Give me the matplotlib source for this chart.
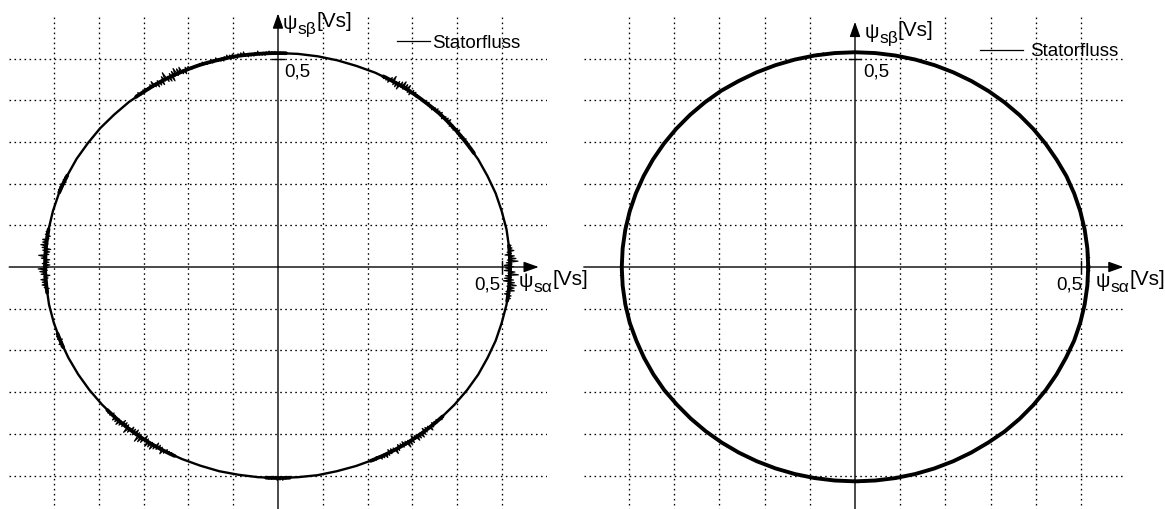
import numpy as np
import matplotlib
matplotlib.use("Agg")
import matplotlib.pyplot as plt
from matplotlib.lines import Line2D

plt.rcParams['font.family'] = ['Liberation Sans', 'DejaVu Sans']

# ---------------------------------------------------------------------------
# Stator flux locus, sampled every 5 degrees (radius in Vs)
# ---------------------------------------------------------------------------
angle_deg = list(range(0, 360, 5))

flux_radius_left = [
    0.518, 0.518, 0.518, 0.517, 0.517, 0.516, 0.516, 0.515, 0.515, 0.515,
    0.514, 0.514, 0.514, 0.514, 0.513, 0.513, 0.513, 0.513, 0.513, 0.513,
    0.514, 0.514, 0.515, 0.515, 0.516, 0.516, 0.517, 0.517, 0.518, 0.518,
    0.519, 0.519, 0.520, 0.520, 0.520, 0.520, 0.520, 0.519, 0.519, 0.518,
    0.517, 0.516, 0.515, 0.514, 0.513, 0.512, 0.511, 0.510, 0.509, 0.508,
    0.507, 0.507, 0.506, 0.506, 0.506, 0.506, 0.507, 0.507, 0.508, 0.509,
    0.510, 0.511, 0.512, 0.513, 0.514, 0.515, 0.516, 0.516, 0.517, 0.517,
    0.518, 0.518,
]

flux_radius_right = [
    0.516, 0.516, 0.516, 0.516, 0.516, 0.516, 0.515, 0.515, 0.515, 0.515,
    0.515, 0.515, 0.515, 0.515, 0.515, 0.515, 0.515, 0.515, 0.515, 0.515,
    0.515, 0.515, 0.515, 0.515, 0.515, 0.516, 0.516, 0.516, 0.516, 0.516,
    0.516, 0.516, 0.516, 0.516, 0.516, 0.516, 0.516, 0.516, 0.516, 0.516,
    0.515, 0.515, 0.515, 0.515, 0.514, 0.514, 0.514, 0.514, 0.514, 0.514,
    0.514, 0.514, 0.514, 0.514, 0.514, 0.514, 0.514, 0.514, 0.514, 0.514,
    0.514, 0.514, 0.515, 0.515, 0.515, 0.515, 0.515, 0.515, 0.516, 0.516,
    0.516, 0.516,
]

# Ripple bursts on the locus: (start angle, end angle, amplitude in Vs)
ripple_left = [
    (-9, 6, 0.02), (32, 53, 0.008), (53, 63, 0.016), (88, 112, 0.008),
    (112, 124, 0.018), (124, 128, 0.008), (155, 160, 0.007),
    (170, 187, 0.016), (198, 202, 0.008), (222, 243, 0.016),
    (267, 273, 0.007), (294, 316, 0.013),
]
ripple_right = [
    (95, 101, 0.004), (178, 186, 0.004), (268, 274, 0.004), (352, 8, 0.004),
]

# Spike shape sequence used to draw the ripple
ripple_pattern = [1.0, 0.45, 0.8, 0.2, 0.65, 0.95, 0.3, 0.55, 0.85, 0.15,
                  0.7, 0.4, 0.9, 0.25, 0.6]

grid_values = [-0.5, -0.4, -0.3, -0.2, -0.1, 0.1, 0.2, 0.3, 0.4, 0.5]
tick_value = 0.5
tick_text = "0,5"
legend_text = "Statorfluss"
x_title = ("ψ", "sα", "[Vs]")
y_title = ("ψ", "sβ", "[Vs]")

# ---------------------------------------------------------------------------
W, H = 1165, 509
fig = plt.figure(figsize=(W / 100, H / 100), dpi=100)


def make_axes(cx, cy, sx, sy):
    ax = fig.add_axes([(cx - 0.6 * sx) / W, 1 - (cy + 0.6 * sy) / H,
                       1.2 * sx / W, 1.2 * sy / H])
    ax.set_xlim(-0.6, 0.6)
    ax.set_ylim(-0.6, 0.6)
    ax.axis('off')
    return ax


def axis_title(ax, x, y, parts):
    """Symbol, subscript and unit written as three chained texts."""
    sym, sub, unit = parts
    t1 = ax.text(x, y, sym, fontsize=14.5, ha='left', va='top')
    t2 = ax.annotate(sub, xy=(1.0, 0.58), xycoords=t1, fontsize=12.5,
                     ha='left', va='top')
    ax.annotate(unit, xy=(1.0, 1.12), xycoords=(t2, t1), fontsize=15,
                ha='left', va='top')


def draw_panel(ax, radius, ripples, lw, band_extra, x_tip, y_tip, ylab_pos,
               xlab_x, leg_pos, leg_len, leg_pad, ytick_txt_pos, xtick_txt_x):
    # dotted grid
    dot = (0, (1.2, 2.6))
    for v in grid_values:
        ax.plot([v, v], [-0.6, 0.6], color='k', lw=0.95, ls=dot, zorder=1)
        ax.plot([-0.6, 0.6], [v, v], color='k', lw=0.95, ls=dot, zorder=1)

    # coordinate axes with arrows
    arrow = dict(arrowstyle='-|>,head_length=0.9,head_width=0.32', lw=1.0,
                 color='k', shrinkA=0, shrinkB=0, mutation_scale=10)
    ax.annotate('', xy=(x_tip, 0), xytext=(-0.6, 0), arrowprops=arrow,
                annotation_clip=False, zorder=2)
    ax.annotate('', xy=(0, y_tip), xytext=(0, -0.62), arrowprops=arrow,
                annotation_clip=False, zorder=2)
    ax.plot([tick_value, tick_value], [-0.014, 0.014], color='k', lw=1.0,
            zorder=2)
    ax.plot([-0.013, 0.013], [tick_value, tick_value], color='k', lw=1.0,
            zorder=2)

    # flux locus
    ang = np.array(angle_deg + [360], dtype=float)
    rad = np.array(radius + [radius[0]])
    th = np.deg2rad(ang)
    ax.plot(rad * np.cos(th), rad * np.sin(th), color='k', lw=lw,
            solid_joinstyle='round', zorder=3, clip_on=False)

    pat = np.array(ripple_pattern)
    for a0, a1, amp in ripples:
        if a1 < a0:
            a1 += 360
        a = np.arange(a0, a1, 0.35)
        base = np.interp(a % 360, ang, rad)
        t = np.deg2rad(a)
        if band_extra > 0:
            # denser band under the spikes
            ax.plot(base * np.cos(t), base * np.sin(t), color='k',
                    lw=lw + band_extra, solid_capstyle='round', zorder=3)
        k = np.arange(len(a))
        env = np.sqrt(np.sin(np.pi * (a - a0) / (a1 - a0)))
        wig = pat[k % len(pat)] * np.where(k % 2 == 0, 1.0, -0.75)
        r = base + amp * env * wig
        ax.plot(r * np.cos(t), r * np.sin(t), color='k', lw=0.85, zorder=3)

    # texts
    ax.text(ytick_txt_pos[0], ytick_txt_pos[1], tick_text, fontsize=13.5,
            ha='left', va='top')
    ax.text(xtick_txt_x, -0.022, tick_text, fontsize=13.5, ha='right',
            va='top')
    axis_title(ax, ylab_pos[0], ylab_pos[1], y_title)
    axis_title(ax, xlab_x, -0.012, x_title)

    ax.legend([Line2D([], [], color='k', lw=0.9)], [legend_text],
              loc='center left', bbox_to_anchor=leg_pos,
              bbox_transform=ax.transData, frameon=False, fontsize=13.5,
              borderpad=0, borderaxespad=0, handlelength=leg_len,
              handletextpad=leg_pad)


ax_left = make_axes(278, 267, 448, 417)
draw_panel(ax_left, flux_radius_left, ripple_left, lw=1.7, band_extra=1.0,
           x_tip=0.582, y_tip=0.608, ylab_pos=(0.011, 0.607), xlab_x=0.538,
           leg_pos=(0.266, 0.537), leg_len=1.75, leg_pad=0.1,
           ytick_txt_pos=(0.014, 0.488), xtick_txt_x=0.497)

ax_right = make_axes(855, 267, 452, 417)
draw_panel(ax_right, flux_radius_right, ripple_right, lw=2.8, band_extra=0,
           x_tip=0.594, y_tip=0.588, ylab_pos=(0.021, 0.585), xlab_x=0.533,
           leg_pos=(0.277, 0.516), leg_len=2.3, leg_pad=0.35,
           ytick_txt_pos=(0.018, 0.488), xtick_txt_x=0.502)

fig.savefig("out.png", dpi=100)
